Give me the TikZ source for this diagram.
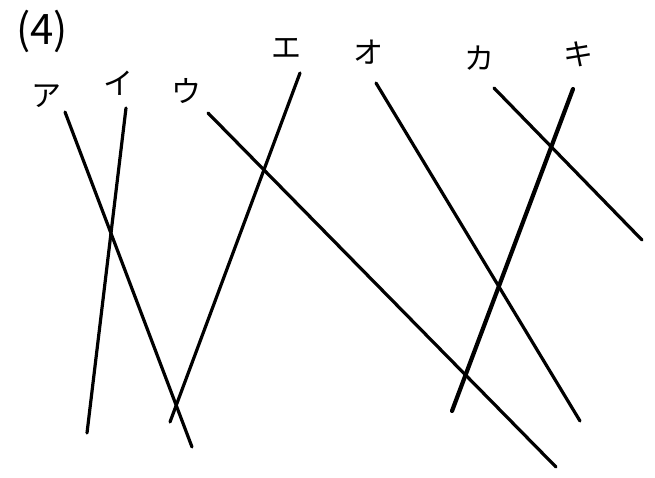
\documentclass[tikz,border=0pt]{standalone}
\usepackage{fontspec}
\newfontfamily\jpfont{Noto Sans CJK JP}
\tikzset{
  every picture/.style={x=1pt, y=-1pt},
  stroke/.style={draw=black, line width=3.2pt, line cap=round},
  kana/.style={font=\jpfont\fontsize{30}{32}\selectfont, inner sep=0pt},
  tag/.style={font=\jpfont\fontsize{42}{44}\selectfont, inner sep=0pt},
}
\begin{document}
\begin{tikzpicture}
  \useasboundingbox (0,0) rectangle (655,478);
  % problem number
  \node[tag] (num) at (42,31) {(4)};
  % segments: name / top end / bottom end / label position / label
  \foreach \n/\tx/\ty/\bx/\by/\lx/\ly/\t in {
      a/65/112/192/447/46/96/ア,
      i/126/108/87/433/118/83/イ,
      u/208/113/556/467/186/91/ウ,
      e/300/73/170/422/286/48/エ,
      o/376/83/580/421/368/52/オ,
      ka/494/88/642/240/479/58/カ} {
    \coordinate (\n top) at (\tx,\ty);
    \coordinate (\n bot) at (\bx,\by);
    \node[kana] (\n lab) at (\lx,\ly) {\t};
    \draw[stroke] (\n top) -- (\n bot);
  }
  % the thicker one
  \coordinate (ki top) at (573,89);
  \coordinate (ki bot) at (452,411);
  \node[kana] (ki lab) at (578,54) {キ};
  \draw[stroke, line width=4.2pt] (ki top) -- (ki bot);
\end{tikzpicture}
\end{document}
